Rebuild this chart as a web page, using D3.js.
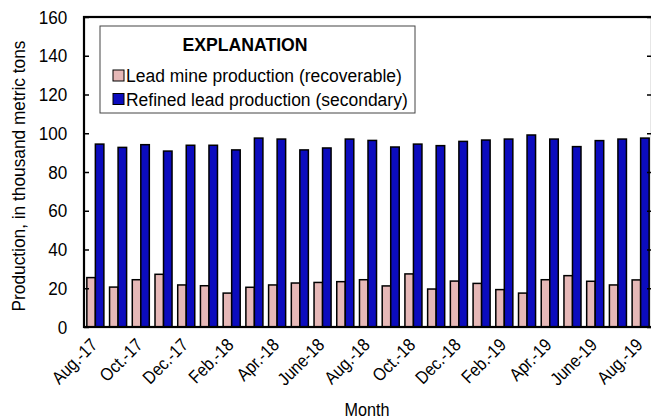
<!DOCTYPE html>
<html>
<head>
<meta charset="utf-8">
<script src="https://cdn.jsdelivr.net/npm/d3@7"></script>
<style>
  html, body { margin: 0; padding: 0; background: #fff; }
  svg { display: block; font-family: "Liberation Sans", Arial, sans-serif; }
</style>
</head>
<body>
<svg id="chart" width="651" height="420"></svg>
<script>
const months = ["Aug.-17","Sept.-17","Oct.-17","Nov.-17","Dec.-17","Jan.-18","Feb.-18","Mar.-18",
  "Apr.-18","May-18","June-18","July-18","Aug.-18","Sept.-18","Oct.-18","Nov.-18","Dec.-18",
  "Jan.-19","Feb.-19","Mar.-19","Apr.-19","May-19","June-19","July-19","Aug.-19"];
const mineProduction = [25.5,20.6,24.4,27.2,21.7,21.3,17.5,20.5,21.7,22.7,23.0,23.4,24.4,21.2,27.4,19.6,
  23.7,22.5,19.3,17.5,24.4,26.5,23.6,21.7,24.3];
const refinedProduction = [94.4,92.7,94.1,90.8,93.8,93.8,91.4,97.5,97.0,91.4,92.4,97.0,96.3,92.9,94.4,93.6,
  95.8,96.5,97.0,99.1,97.0,93.1,96.2,97.0,97.5];
const tickLabels = ["Aug.-17","Oct.-17","Dec.-17","Feb.-18","Apr.-18","June-18","Aug.-18","Oct.-18",
  "Dec.-18","Feb.-19","Apr.-19","June-19","Aug.-19"];
const yTicks = [0,20,40,60,80,100,120,140,160];
const seriesNames = ["Lead mine production (recoverable)","Refined lead production (secondary)"];
const seriesColors = ["#E6B8B7","#0C0CBE"];

const svg = d3.select("#chart");
const L = 84, R = 652, T = 17, B = 327;
const SQ = 0.91; // horizontal squeeze of the narrow type

const x = d3.scaleBand().domain(months).range([L, R]).paddingInner(0.25).paddingOuter(0.125);
const xs = d3.scaleBand().domain([0,1]).range([0, x.bandwidth()]);
const y = d3.scaleLinear().domain([0,160]).range([B, T]);

const data = months.map((m,i) => ({m, v:[mineProduction[i], refinedProduction[i]]}));

// bars
const g = svg.append("g");
data.forEach(d => {
  d.v.forEach((v,j) => {
    g.append("rect")
      .attr("x", x(d.m) + xs(j))
      .attr("y", y(v))
      .attr("width", xs.bandwidth())
      .attr("height", y(0) - y(v))
      .attr("fill", seriesColors[j])
      .attr("stroke", "#000")
      .attr("stroke-width", 1.5);
  });
});

// left axis ticks (inward) and labels
const yAxisL = d3.axisLeft(y).tickValues(yTicks).tickSize(-5).tickPadding(18.5);
const gl = svg.append("g").attr("transform", `translate(${L},0)`).call(yAxisL);
gl.select(".domain").remove();
gl.selectAll("line").attr("stroke", "#000").attr("stroke-width", 1.5);
gl.selectAll("text").attr("font-size", 19).attr("fill", "#000").attr("font-family", "inherit")
  .attr("transform", `scale(${SQ - 0.01},1)`);

const yAxisR = d3.axisRight(y).tickValues(yTicks).tickSize(-5).tickFormat("");
const gr = svg.append("g").attr("transform", `translate(${R},0)`).call(yAxisR);
gr.select(".domain").remove();
gr.selectAll("line").attr("stroke", "#000").attr("stroke-width", 1.5);

// frame
svg.append("rect").attr("x", L).attr("y", T).attr("width", R - L).attr("height", B - T)
  .attr("fill", "none").attr("stroke", "#000").attr("stroke-width", 2.2);

// x labels
svg.append("g").selectAll("text").data(tickLabels).join("text")
  .attr("transform", d => `translate(${x(d) + x.bandwidth()/2 + 3},${B + 19}) rotate(-45) scale(0.88,1)`)
  .attr("text-anchor", "end")
  .attr("font-size", 18)
  .text(d => d);

// axis titles
svg.append("text").attr("transform", `translate(${(L + R)/2 - 1},416) scale(0.9,1)`)
  .attr("text-anchor", "middle").attr("font-size", 18).text("Month");
svg.append("text").attr("transform", `translate(25,176) rotate(-90) scale(${SQ},1)`)
  .attr("text-anchor", "middle").attr("font-size", 19).text("Production, in thousand metric tons");

// legend
const lg = svg.append("g");
lg.append("rect").attr("x", 100).attr("y", 26).attr("width", 315).attr("height", 87)
  .attr("fill", "#fff").attr("stroke", "#444").attr("stroke-width", 1);
lg.append("text").attr("transform", `translate(245,51) scale(${SQ + 0.02},1)`).attr("text-anchor", "middle")
  .attr("font-weight", "bold").attr("font-size", 19).text("EXPLANATION");
seriesNames.forEach((n,i) => {
  const yy = 82 + i*23.5;
  lg.append("rect").attr("x", 113).attr("y", yy - 12).attr("width", 11).attr("height", 11)
    .attr("fill", seriesColors[i]).attr("stroke", "#000").attr("stroke-width", 1);
  lg.append("text").attr("transform", `translate(126,${yy}) scale(${SQ + 0.01},1)`)
    .attr("font-size", 19).text(n);
});
</script>
</body>
</html>
